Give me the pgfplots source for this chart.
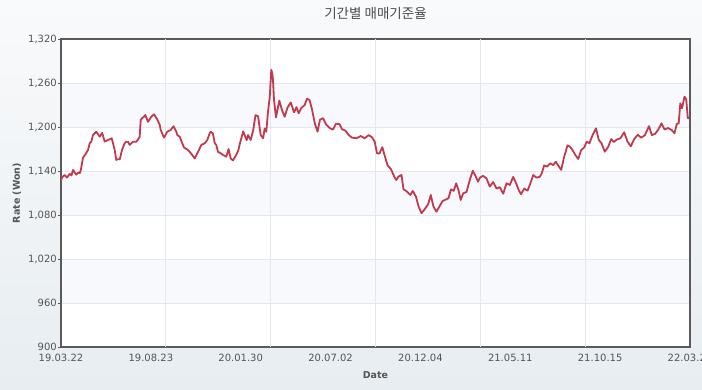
\documentclass[border=0pt]{standalone}
\usepackage{pgfplots}
\pgfplotsset{compat=1.18}
\usepackage{fontspec}
\setmainfont{DejaVu Sans}
\newfontfamily\kofont{Noto Sans CJK KR}
\definecolor{linec}{HTML}{C23A4D}
\definecolor{bgtop}{HTML}{F9FAFB}
\definecolor{bgbot}{HTML}{E7EDF1}
\definecolor{bandc}{HTML}{F7F9FC}
\definecolor{gridc}{HTML}{E4E8EC}
\definecolor{axisc}{HTML}{5A5A5A}
\definecolor{tickc}{HTML}{555555}
\definecolor{labc}{HTML}{555555}
\definecolor{titc}{HTML}{4A4A4A}
\begin{document}
\begin{tikzpicture}
\shade[top color=bgtop, bottom color=bgbot] (-61pt,-43pt) rectangle (641pt,347pt);
\path[use as bounding box] (-61pt,-43pt) rectangle (641pt,347pt);
\fill[white] (0,0) rectangle (629pt,308pt);
\fill[bandc] (0,44pt) rectangle (629pt,88pt);
\fill[bandc] (0,132pt) rectangle (629pt,176pt);
\fill[bandc] (0,220pt) rectangle (629pt,264pt);
\begin{axis}[
  at={(0,0)}, anchor=south west,
  scale only axis, width=629pt, height=308pt,
  xmin=0, xmax=629, ymin=900, ymax=1320,
  ytick={900,960,1020,1080,1140,1200,1260,1320},
  xtick={0,89.857,179.714,269.571,359.429,449.286,539.143,629},
  xticklabels={19.03.22,19.08.23,20.01.30,20.07.02,20.12.04,21.05.11,21.10.15,22.03.22},
  extra x ticks={104.833,209.667,314.5,419.333,524.167},
  extra x tick labels={},
  extra x tick style={grid=major, major tick length=0pt},
  ymajorgrids,
  major grid style={color=gridc, line width=0.8pt},
  tick pos=left,
  tick align=outside,
  major tick length=3pt,
  xtick style={draw=none},
  ytick style={color=axisc, line width=0.8pt},
  axis line style={color=axisc, line width=2pt},
  /pgf/number format/1000 sep={,},
  /pgf/number format/assume math mode=true,
  tick label style={font=\fontsize{10}{12}\selectfont, text=tickc},
  xticklabel style={anchor=north, inner sep=0pt, yshift=-4pt},
  yticklabel style={inner sep=1pt},
  xlabel={Date},
  xlabel style={font=\bfseries\fontsize{9.5}{11}\selectfont, text=labc, at={(axis description cs:0.5,-0.0909)}, anchor=center},
  ylabel={Rate (Won)},
  ylabel style={font=\bfseries\fontsize{9.5}{11}\selectfont, text=labc, at={(axis description cs:-0.070,0.5)}, anchor=center},
  title={\kofont 기간별 매매기준율},
  title style={font=\fontsize{13.5}{16}\selectfont, text=titc, at={(axis description cs:0.5,1)}, anchor=center, yshift=20pt},
]
\addplot[color=linec, line width=1.8pt, line join=round] table {
x y
0 1127.7
1.5 1132
3.7 1134.5
6 1131
7 1133
8.7 1136
10.5 1134
12 1141.5
15.3 1135
17.5 1138
18.7 1137
19.7 1140.5
22 1158
25 1164
27 1168.6
28.7 1177.8
30.3 1180
32 1189
33.7 1191.4
35.3 1193.6
38.7 1186.8
41.2 1192
43.7 1180
47.3 1182.5
50.7 1184.6
52 1177.8
53.7 1168.6
55.3 1155
56.3 1156
58.8 1156
61 1168.6
62 1172
63.7 1177.8
65.3 1180
67 1180
68.7 1175.5
72 1180
75.3 1180
77 1183
78.7 1186.8
79.7 1209.5
81 1212
83 1214
84.3 1216.4
87 1207
90.3 1214
92 1216
93 1217.3
96 1211
98.7 1203
99.7 1196
103 1185.5
106.3 1193.6
109.7 1196
112.5 1201
115.3 1193.6
116.3 1189
118.7 1186.8
123 1172
127 1168.6
130.3 1163.5
133.7 1157
137 1166
140.3 1175.5
143.7 1177.8
146.3 1182.3
148.7 1191.4
149.7 1193.6
152 1191
153.7 1178
155.3 1175.5
157 1166
158.7 1165
162 1162
165.3 1159.5
167.6 1170
169.7 1157
172 1154.5
175.3 1162
177.3 1168
179 1178
182.2 1194
184.3 1186.8
185.7 1182
187 1189
189.7 1182.3
192.2 1195.8
194.5 1216.2
197.1 1214.5
199.7 1189
202.1 1184.6
203.7 1198
205.3 1193.6
207 1221
208.7 1240
210.3 1278
211.3 1273
212 1264
213 1237
215 1213
218.3 1236
221 1223
223.7 1214
226.5 1226.5
229.8 1233.5
233 1220
235.5 1227
237.7 1218.7
240.3 1226
243.7 1230
246 1238.5
248.5 1237
251 1224
253.8 1205
256.5 1193.6
259 1210
262 1212
265.3 1203
268.7 1198.5
272 1196.5
275 1204.5
278.5 1204
281 1197
284.5 1195
287.7 1189
291 1185.5
295.5 1184.6
299.7 1187.7
303.7 1184.6
307.7 1189
311 1186
313.7 1180
316 1164
318.5 1164
321.3 1172.5
324 1159.5
326.5 1148
330 1142.5
333.5 1131.5
335.3 1127.7
337.5 1132.5
340.5 1134.5
342.5 1115
346 1112
349.3 1107.3
351.8 1112.8
355 1105
357.7 1091
360.5 1082.5
363.8 1088
367.2 1095
369.8 1107.3
372.5 1091.3
375.5 1084.5
378.8 1092.5
381.5 1099
384.8 1101
387.5 1103
390 1115
392.7 1113
395.2 1123.2
397.5 1114
399.7 1100.5
402.2 1109.6
405.5 1111.3
407.7 1122.3
409.3 1130
411.8 1140.4
414.5 1133.3
417 1125.4
419 1131
422 1133.4
425.5 1130
428.8 1118.7
432.2 1125
435.5 1116
438.8 1118
442.2 1109
445.5 1123.2
448.8 1121
452.2 1132
455.5 1122
457.7 1114
460 1108.4
463.3 1116
466.6 1113.3
469.5 1123.5
472.2 1134.5
475.5 1131
478.7 1132
480.5 1136
483.2 1147.6
486 1146
489.3 1150.5
492.2 1148
494.8 1152.7
497 1148
500.2 1141.4
503.2 1159.5
506.5 1175
509 1173
511.2 1169.3
513.8 1163
517.2 1156.4
520.2 1168.6
523.2 1172
525.7 1180
528.4 1177.8
531.3 1188
535 1198.1
537.8 1182.3
540.5 1177.8
543.8 1166.3
547.2 1173
550.2 1183.5
552.7 1179.5
556 1183
559.3 1184.5
563.2 1192.8
566.5 1180
569.8 1173.7
573.2 1183.5
576.8 1189.5
580.2 1185.4
584 1189
588 1201.2
590.8 1189
594.2 1190.7
597.5 1197
600.5 1205
603.5 1196.6
607 1198.6
610.5 1196
613.5 1191.4
615.8 1204.3
617.7 1205
619.3 1232.3
621 1225.5
623.5 1241.4
625.2 1238
626.8 1212
628 1212
};
\end{axis}
\end{tikzpicture}
\end{document}
